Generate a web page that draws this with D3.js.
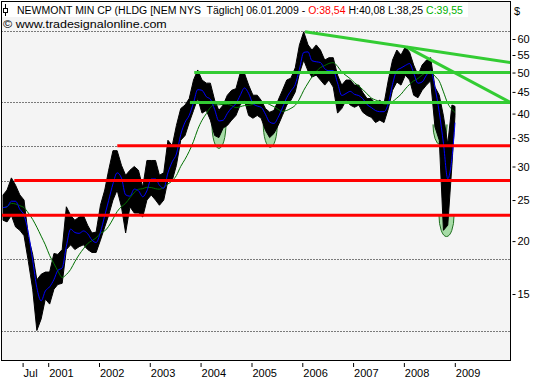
<!DOCTYPE html>
<html>
<head>
<meta charset="utf-8">
<script src="https://cdn.jsdelivr.net/npm/d3@7"></script>
<style>
  body { margin: 0; background: #fff; }
  svg { display: block; font-family: "Liberation Sans", Arial, sans-serif; }
</style>
</head>
<body>
<div id="chart"></div>
<script>
// monthly high / low of NEM in $ (last entry = 06.01.2009)
var months = [
  "2000-02-15","2000-03-15","2000-04-15","2000-05-15","2000-06-15","2000-07-15","2000-08-15","2000-09-15","2000-10-15","2000-11-15","2000-12-15",
  "2001-01-15","2001-02-15","2001-03-15","2001-04-15","2001-05-15","2001-06-15","2001-07-15","2001-08-15","2001-09-15","2001-10-15","2001-11-15","2001-12-15",
  "2002-01-15","2002-02-15","2002-03-15","2002-04-15","2002-05-15","2002-06-15","2002-07-15","2002-08-15","2002-09-15","2002-10-15","2002-11-15","2002-12-15",
  "2003-01-15","2003-02-15","2003-03-15","2003-04-15","2003-05-15","2003-06-15","2003-07-15","2003-08-15","2003-09-15","2003-10-15","2003-11-15","2003-12-15",
  "2004-01-15","2004-02-15","2004-03-15","2004-04-15","2004-05-15","2004-06-15","2004-07-15","2004-08-15","2004-09-15","2004-10-15","2004-11-15","2004-12-15",
  "2005-01-15","2005-02-15","2005-03-15","2005-04-15","2005-05-15","2005-06-15","2005-07-15","2005-08-15","2005-09-15","2005-10-15","2005-11-15","2005-12-15",
  "2006-01-15","2006-02-15","2006-03-15","2006-04-15","2006-05-15","2006-06-15","2006-07-15","2006-08-15","2006-09-15","2006-10-15","2006-11-15","2006-12-15",
  "2007-01-15","2007-02-15","2007-03-15","2007-04-15","2007-05-15","2007-06-15","2007-07-15","2007-08-15","2007-09-15","2007-10-15","2007-11-15","2007-12-15",
  "2008-01-15","2008-02-15","2008-03-15","2008-04-15","2008-05-15","2008-06-15","2008-07-15","2008-08-15","2008-09-15","2008-10-15","2008-11-15","2008-12-15",
  "2009-01-06"
];
var highs = [
  25.7, 26.4, 28.2, 27.1, 25.7, 25.0, 20.5, 18.6, 16.2, 16.7, 16.9,
  16.9, 18.7, 18.6, 19.1, 24.1, 23.0, 22.4, 22.8, 23.0, 21.8, 20.9, 21.0,
  24.3, 26.4, 29.4, 32.7, 32.7, 30.2, 28.6, 29.4, 30.0, 29.4, 26.8, 31.0,
  31.0, 31.0, 28.6, 29.0, 34.6, 33.6, 37.5, 41.1, 41.9, 43.4, 48.0, 50.7,
  48.0, 47.2, 47.2, 43.0, 40.7, 41.9, 44.2, 45.4, 45.8, 49.8, 49.8, 46.7,
  44.2, 44.2, 43.0, 41.1, 40.3, 40.7, 43.0, 45.4, 48.0, 48.5, 51.3, 58.1,
  62.4, 58.1, 56.5, 58.1, 56.5, 53.5, 54.2, 54.2, 49.3, 46.7, 48.0, 48.0,
  46.7, 46.7, 44.9, 43.4, 43.4, 42.2, 43.0, 42.2, 48.0, 53.5, 56.5, 55.0,
  57.5, 55.8, 52.1, 49.3, 52.1, 53.5, 54.2, 46.2, 44.2, 39.5, 33.9, 41.9,
  41.6
];
var lows = [
  22.4, 22.2, 23.0, 21.6, 21.2, 20.6, 17.9, 15.4, 12.3, 13.1, 14.6,
  14.2, 15.4, 15.8, 15.9, 19.1, 19.6, 19.1, 19.4, 19.6, 19.1, 18.8, 18.8,
  20.1, 21.6, 23.0, 25.0, 26.4, 24.1, 20.9, 24.1, 23.3, 23.3, 22.8, 25.0,
  25.7, 25.0, 24.3, 25.0, 27.8, 27.8, 30.2, 34.6, 35.5, 38.1, 40.7, 43.4,
  40.1, 40.7, 38.6, 35.5, 35.1, 37.0, 37.5, 38.6, 39.6, 41.9, 43.0, 39.6,
  39.0, 39.6, 39.0, 36.5, 35.1, 35.9, 37.5, 39.6, 41.9, 43.0, 45.0, 49.8,
  53.5, 50.4, 48.8, 49.3, 48.0, 46.7, 48.0, 46.2, 40.1, 41.1, 43.0, 41.9,
  41.4, 41.9, 40.3, 39.6, 39.2, 38.1, 38.6, 38.1, 41.1, 45.4, 47.5, 46.7,
  49.3, 48.0, 44.2, 43.6, 45.4, 46.7, 47.8, 37.2, 34.6, 21.2, 21.8, 30.2,
  39.6
];

// drawn objects: support / resistance lines, trend lines, marked bottoms
var redLevels = [23.0, 27.8, 33.6];
var redStarts = ["2000-02-01", "2000-05-06", "2002-05-16"];
var greenLevels = [42.5, 50.0];
var greenStarts = ["2003-10-20", "2003-11-20"];
var trendStart = [["2006-01-24", 62.4], ["2008-01-25", 57.4]];
var trendEnd = [["2010-02-08", 52.8], ["2010-02-08", 42.5]];
var ovalFrom = ["2004-03-26", "2005-03-30", "2008-08-01", "2008-09-13"];
var ovalTo = ["2004-07-05", "2005-07-09", "2008-11-10", "2008-12-30"];
var ovalTop = [37.9, 37.9, 37.7, 23.0];
var ovalBottom = [33.1, 33.3, 33.8, 20.5];

var gridLevels = [12.3, 18.1, 27.8, 33.6, 42.6, 62.7];
var priceTicks = [15, 20, 25, 30, 35, 40, 45, 50, 55, 60];
var dateTicks = ["2000-07-01", "2001-01-01", "2002-01-01", "2003-01-01", "2004-01-01",
                 "2005-01-01", "2006-01-01", "2007-01-01", "2008-01-01", "2009-01-01"];
var dateLabels = ["Jul", "2001", "2002", "2003", "2004", "2005", "2006", "2007", "2008", "2009"];

var width = 533, height = 380;
var plot = {left: 1.5, top: 1.5, right: 510.5, bottom: 360.5};
var parse = d3.utcParse("%Y-%m-%d");

var x = d3.scaleUtc()
    .domain([parse("2001-01-01"), parse("2009-01-01")])
    .range([47.7, 454.3]);
var y = d3.scaleLog()
    .domain([15, 60])
    .range([294, 39]);

var bars = months.map(function(m, i){
    return {date: parse(m), high: highs[i], low: lows[i]};
});

function sma(n){
    return bars.map(function(d, i){
        var w = bars.slice(Math.max(0, i - n + 1), i + 1);
        return {date: d.date, value: d3.mean(w, b => Math.sqrt(b.high * b.low))};
    });
}

var svg = d3.select("#chart").append("svg")
    .attr("width", width)
    .attr("height", height);

svg.append("rect")
    .attr("width", width).attr("height", height)
    .attr("fill", "#fff");
svg.append("rect")
    .attr("x", plot.left).attr("y", plot.top)
    .attr("width", plot.right - plot.left).attr("height", plot.bottom - plot.top)
    .attr("fill", "#f4f4f4");

svg.append("clipPath").attr("id", "plot-clip")
    .append("rect")
    .attr("x", plot.left).attr("y", plot.top)
    .attr("width", plot.right - plot.left).attr("height", plot.bottom - plot.top);

var chart = svg.append("g").attr("clip-path", "url(#plot-clip)");

// dotted grid
chart.selectAll(".grid")
    .data(gridLevels)
    .enter().append("line")
    .attr("class", "grid")
    .attr("x1", plot.left).attr("x2", plot.right)
    .attr("y1", d => Math.round(y(d)) + 0.5)
    .attr("y2", d => Math.round(y(d)) + 0.5)
    .attr("stroke", "#000")
    .attr("stroke-dasharray", "1,2");

// marked bottoms (lower half ovals)
var ovals = ovalFrom.map(function(f, i){
    var x0 = x(parse(f)), x1 = x(parse(ovalTo[i]));
    var yt = y(ovalTop[i]), yb = y(ovalBottom[i]);
    return {x0: x0, x1: x1, yt: yt, rx: (x1 - x0) / 2, ry: yb - yt};
});
chart.selectAll(".oval")
    .data(ovals)
    .enter().append("path")
    .attr("class", "oval")
    .attr("d", d => `M${d.x0},${d.yt} A${d.rx},${d.ry} 0 0 0 ${d.x1},${d.yt} Z`)
    .attr("fill", "#a6dba6");
chart.selectAll(".oval-line")
    .data(ovals)
    .enter().append("path")
    .attr("class", "oval-line")
    .attr("d", d => `M${d.x0},${d.yt} A${d.rx},${d.ry} 0 0 0 ${d.x1},${d.yt}`)
    .attr("fill", "none")
    .attr("stroke", "#1f6f1f")
    .attr("stroke-width", 1);

// price range
chart.append("path")
    .datum(bars)
    .attr("d", d3.area()
        .x(d => x(d.date))
        .y0(d => y(d.low))
        .y1(d => y(d.high)))
    .attr("fill", "#000")
    .attr("stroke", "#000")
    .attr("stroke-width", 1);

// moving averages
var maLine = d3.line()
    .x(d => x(d.date))
    .y(d => y(d.value))
    .curve(d3.curveMonotoneX);
chart.append("path")
    .datum(sma(9))
    .attr("d", maLine)
    .attr("fill", "none")
    .attr("stroke", "#007000")
    .attr("stroke-width", 1);
chart.append("path")
    .datum(sma(2))
    .attr("d", maLine)
    .attr("fill", "none")
    .attr("stroke", "#0000ff")
    .attr("stroke-width", 1);

// horizontal levels
chart.selectAll(".red-level")
    .data(redLevels)
    .enter().append("line")
    .attr("class", "red-level")
    .attr("x1", (d, i) => x(parse(redStarts[i])))
    .attr("x2", plot.right)
    .attr("y1", d => y(d)).attr("y2", d => y(d))
    .attr("stroke", "#ff0000")
    .attr("stroke-width", 3);
chart.selectAll(".green-level")
    .data(greenLevels)
    .enter().append("line")
    .attr("class", "green-level")
    .attr("x1", (d, i) => x(parse(greenStarts[i])))
    .attr("x2", plot.right)
    .attr("y1", d => y(d)).attr("y2", d => y(d))
    .attr("stroke", "#33cc33")
    .attr("stroke-width", 3);

// trend lines
chart.selectAll(".trend")
    .data(trendStart)
    .enter().append("line")
    .attr("class", "trend")
    .attr("x1", d => x(parse(d[0])))
    .attr("y1", d => y(d[1]))
    .attr("x2", (d, i) => x(parse(trendEnd[i][0])))
    .attr("y2", (d, i) => y(trendEnd[i][1]))
    .attr("stroke", "#33cc33")
    .attr("stroke-width", 3);

// frame
svg.append("rect")
    .attr("x", plot.left).attr("y", plot.top)
    .attr("width", plot.right - plot.left).attr("height", plot.bottom - plot.top)
    .attr("fill", "none")
    .attr("stroke", "#000");

// price axis
var yAxis = d3.axisRight(y)
    .tickValues(priceTicks)
    .tickSize(3)
    .tickPadding(2)
    .tickFormat(d3.format("d"));
svg.append("g")
    .attr("transform", "translate(512.5,0)")
    .call(yAxis)
    .call(g => g.select(".domain").remove())
    .call(g => g.selectAll("text").attr("font-size", 11).attr("fill", "#000"))
    .call(g => g.selectAll("line").attr("stroke", "#000"));
svg.append("text")
    .attr("x", 514).attr("y", 15)
    .attr("font-size", 11)
    .text("$");

// date axis
var xAxis = d3.axisBottom(x)
    .tickValues(dateTicks.map(parse))
    .tickSize(4)
    .tickPadding(2)
    .tickFormat((d, i) => dateLabels[i]);
svg.append("g")
    .attr("transform", "translate(0,363)")
    .call(xAxis)
    .call(g => g.select(".domain").remove())
    .call(g => g.selectAll("line").attr("stroke", "#000").attr("transform", "translate(0.5,0)"))
    .call(g => g.selectAll("text")
        .attr("font-size", 11)
        .attr("fill", "#000")
        .attr("text-anchor", "start")
        .attr("x", 1));

// title
svg.append("rect")
    .attr("x", 2).attr("y", 2)
    .attr("width", 466).attr("height", 15)
    .attr("fill", "#fff");
svg.append("line")
    .attr("x1", 5.5).attr("x2", 5.5).attr("y1", 4).attr("y2", 16)
    .attr("stroke", "#000");
svg.append("rect")
    .attr("x", 3.5).attr("y", 8.5).attr("width", 4).attr("height", 4)
    .attr("fill", "#fff").attr("stroke", "#000");

var title = svg.append("text")
    .attr("font-size", 11)
    .style("white-space", "pre");
title.append("tspan").text("NEWMONT MIN CP (HLDG [NEM NYS  Täglich] 06.01.2009 - ");
title.append("tspan").attr("fill", "#ff0000").text("O:38,54");
title.append("tspan").text(" H:40,08 L:38,25 ");
title.append("tspan").attr("fill", "#00b000").text("C:39,55");
var tw = title.node().getComputedTextLength();
title.attr("transform", `translate(17,14) scale(${446 / tw},1)`);

var source = svg.append("text")
    .attr("font-size", 11)
    .text("© www.tradesignalonline.com");
var sw = source.node().getComputedTextLength();
source.attr("transform", `translate(3,28) scale(${164 / sw},1)`);
</script>
</body>
</html>
